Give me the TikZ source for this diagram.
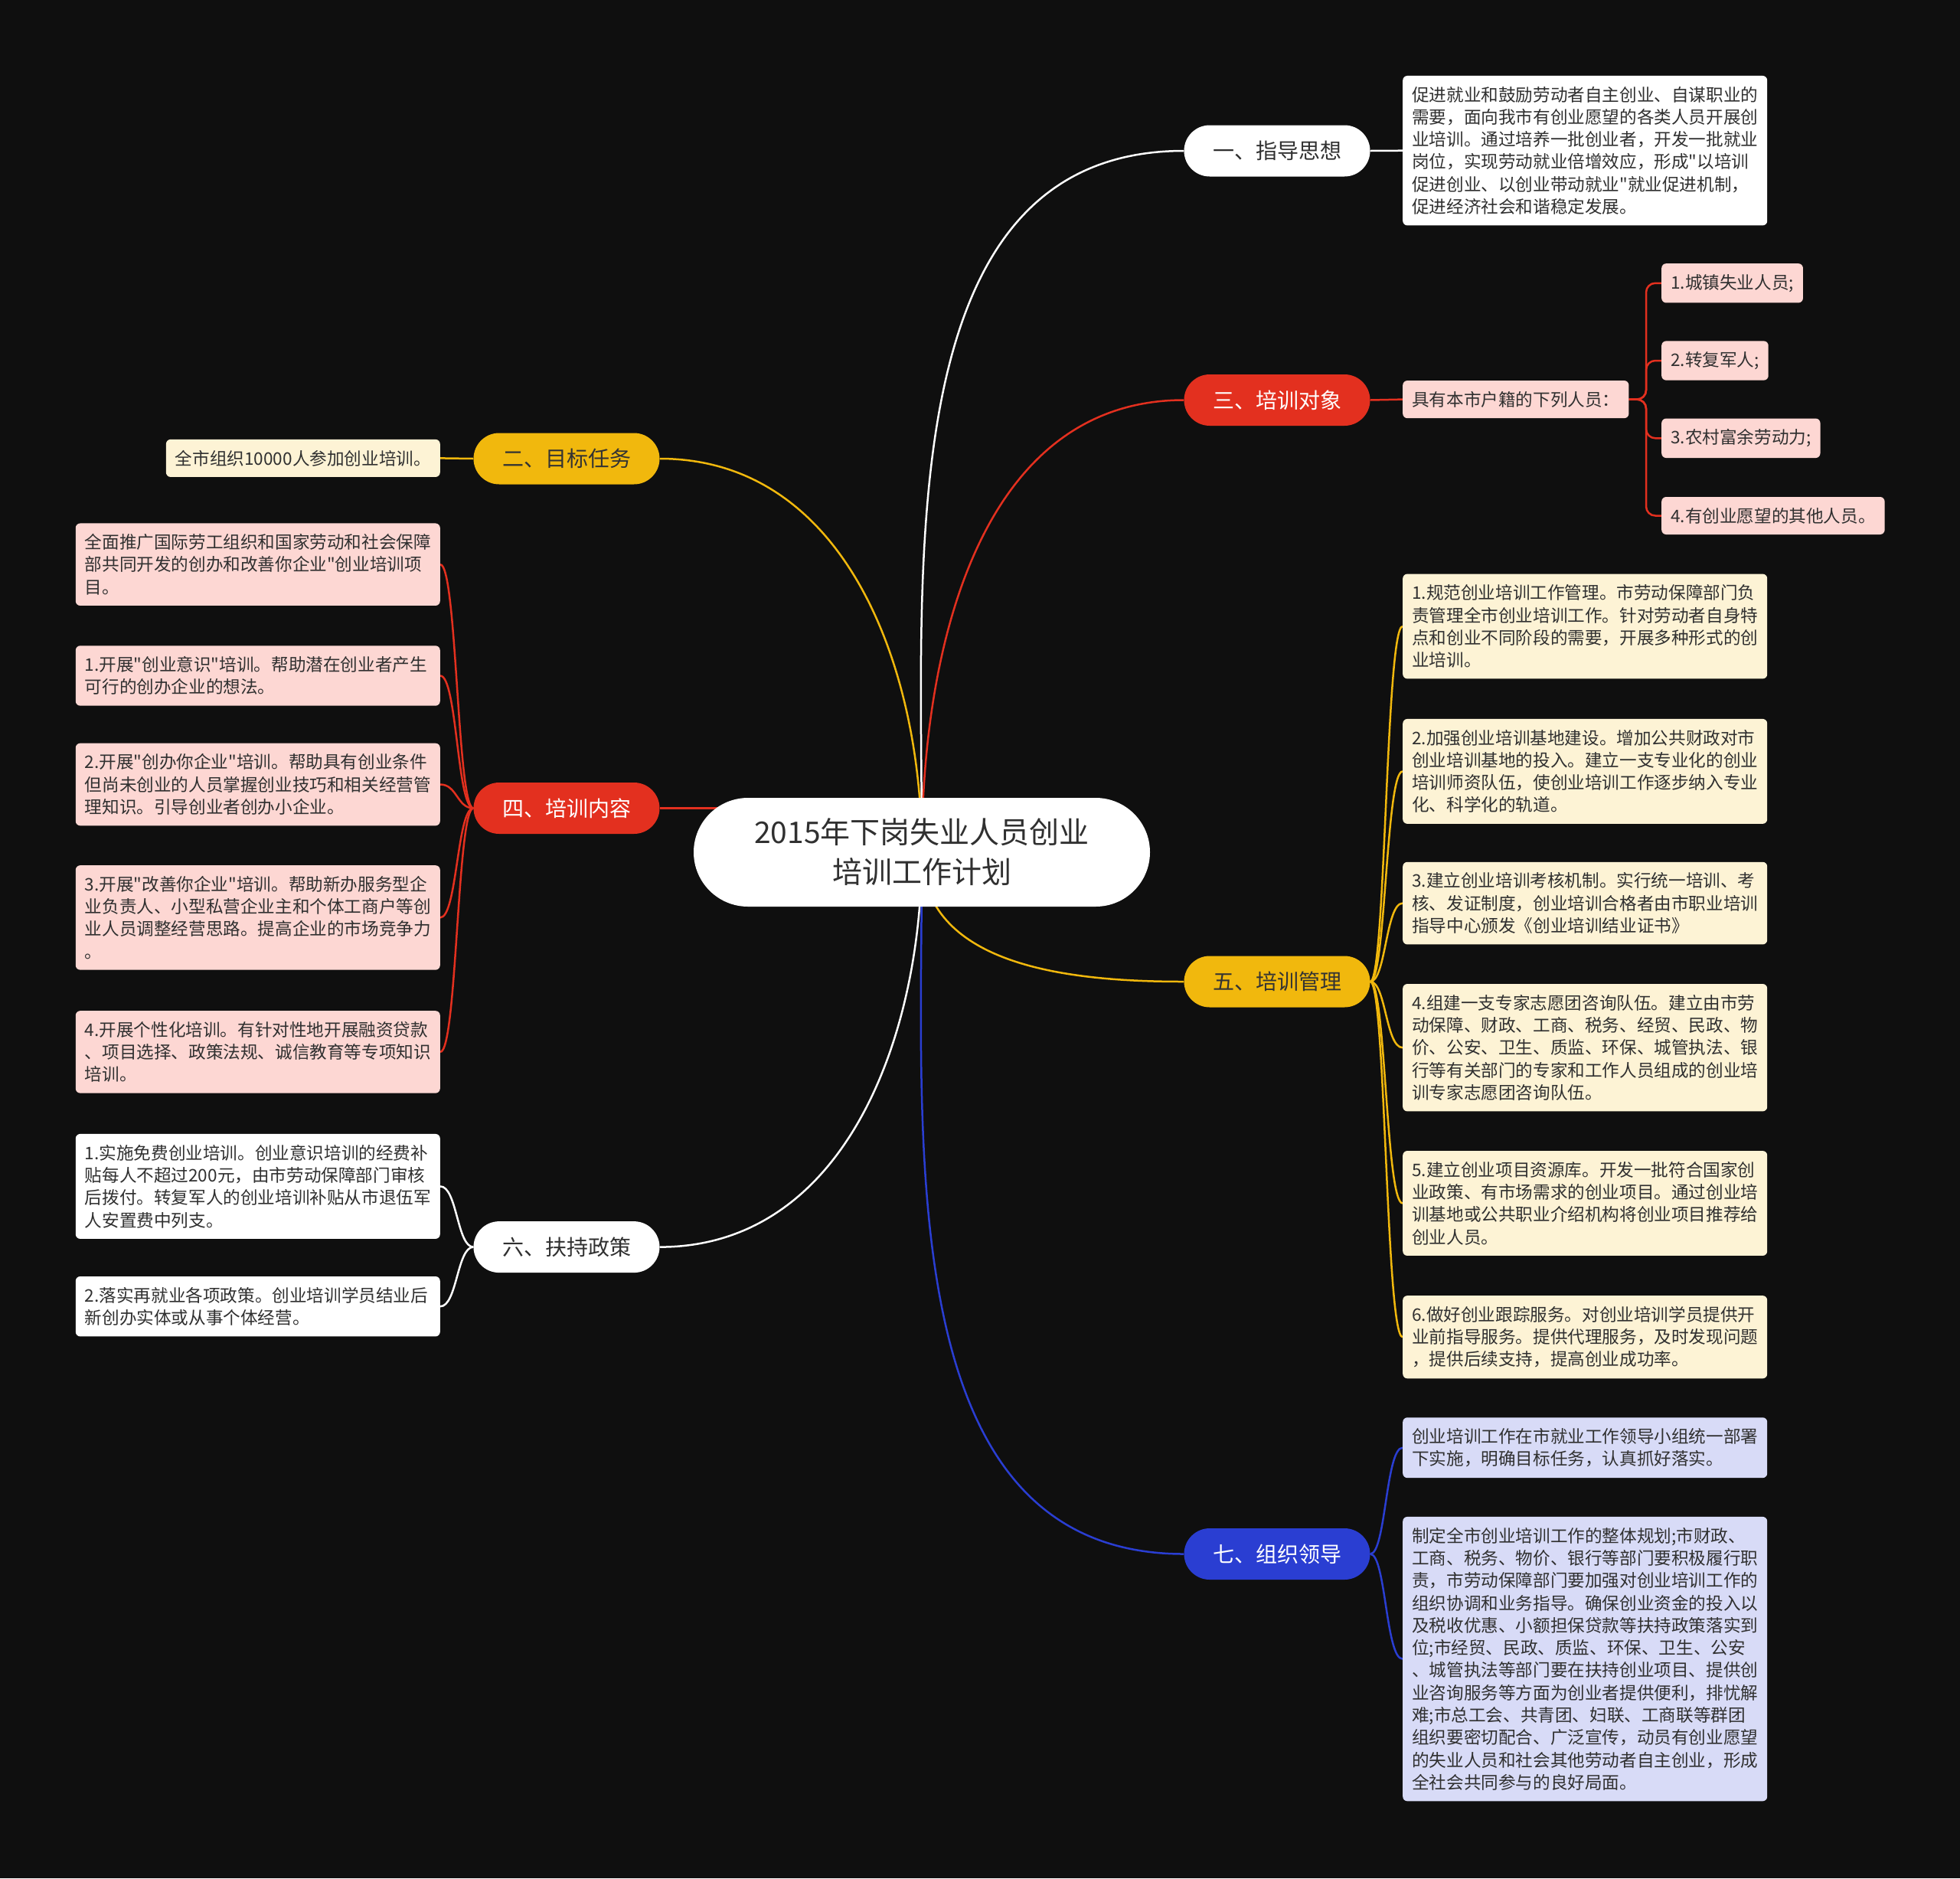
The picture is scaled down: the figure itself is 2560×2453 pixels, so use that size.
\documentclass[tikz,border=0pt]{standalone}
\usepackage{fontspec}
\setmainfont{Noto Sans CJK SC}[Ligatures=TeXOff]
\usetikzlibrary{shapes.misc}
\definecolor{bgdark}{HTML}{0F0F0F}
\definecolor{ink}{HTML}{303030}
\definecolor{redc}{HTML}{E3301F}
\definecolor{yelc}{HTML}{F1B80D}
\definecolor{bluc}{HTML}{2A3ED2}
\definecolor{pinkf}{HTML}{FDD7D3}
\definecolor{cremf}{HTML}{FDF3D5}
\definecolor{lavf}{HTML}{D8DBF7}
\pgfdeclarelayer{back}
\pgfdeclarelayer{edges}
\pgfsetlayers{back,edges,main}
\newcommand{\leaffont}{\fontsize{22.6pt}{29.3pt}\selectfont}
\newcommand{\pillfont}{\fontsize{28pt}{32pt}\selectfont}
\newcommand{\rootfont}{\fontsize{39pt}{52pt}\selectfont}

\begin{document}
\begin{tikzpicture}[x=1pt, y=-1pt,
	rootbox/.style={rounded rectangle, fill=white, text=ink, inner sep=0pt, minimum width=596pt, minimum height=142pt, align=center, font=\rootfont},
	pill/.style={rounded rectangle, inner sep=0pt, minimum width=243pt, minimum height=67pt, font=\pillfont},
	leaf/.style={rounded corners=6pt, inner xsep=12pt, inner ysep=14pt, align=left, font=\leaffont},
	wide/.style={leaf, text width=452pt},
	wline/.style={white, line width=2.5pt},
	rline/.style={redc, line width=2.5pt},
	yline/.style={yelc, line width=2.5pt},
	bline/.style={bluc, line width=2.5pt}]
	\begin{pgfonlayer}{back}
		\fill[bgdark] (0,0) rectangle (2560,2453);
	\end{pgfonlayer}
	\node[rootbox] (root) at (1204,1113) {2015年下岗失业人员创业\\培训工作计划};
	\node[pill, fill=white, text=ink] (b1) at (1668,197) {一、指导思想};
	\node[pill, fill=yelc, text=black!80] (b2) at (740,599) {二、目标任务};
	\node[pill, fill=redc, text=white] (b3) at (1668,522.5) {三、培训对象};
	\node[pill, fill=redc, text=white] (b4) at (740,1055.5) {四、培训内容};
	\node[pill, fill=yelc, text=black!80] (b5) at (1668,1282) {五、培训管理};
	\node[pill, fill=white, text=ink] (b6) at (740,1628.6) {六、扶持政策};
	\node[pill, fill=bluc, text=white] (b7) at (1668,2029.5) {七、组织领导};

	\node[wide, fill=white, text=ink, anchor=west] (l1) at (1832,196.7) {促进就业和鼓励劳动者自主创业、自谋职业的\\需要，面向我市有创业愿望的各类人员开展创\\业培训。通过培养一批创业者，开发一批就业\\岗位，实现劳动就业倍增效应，形成"以培训\\促进创业、以创业带动就业"就业促进机制，\\促进经济社会和谐稳定发展。};
	\node[leaf, fill=cremf, text=ink, anchor=east] (l2) at (575,598.4) {全市组织10000人参加创业培训。};
	\node[leaf, fill=pinkf, text=ink, anchor=west] (l3) at (1832,521.6) {具有本市户籍的下列人员：};
	\node[leaf, fill=pinkf, text=ink, anchor=west] (l3a) at (2170,369.8) {1.城镇失业人员;};
	\node[leaf, fill=pinkf, text=ink, anchor=west] (l3b) at (2170,471) {2.转复军人;};
	\node[leaf, fill=pinkf, text=ink, anchor=west] (l3c) at (2170,572.3) {3.农村富余劳动力;};
	\node[leaf, fill=pinkf, text=ink, anchor=west] (l3d) at (2170,673.5) {4.有创业愿望的其他人员。};

	\node[wide, fill=pinkf, text=ink, anchor=east] (l4a) at (575,737.2) {全面推广国际劳工组织和国家劳动和社会保障\\部共同开发的创办和改善你企业"创业培训项\\目。};
	\node[wide, fill=pinkf, text=ink, anchor=east] (l4b) at (575,882.5) {1.开展"创业意识"培训。帮助潜在创业者产生\\可行的创办企业的想法。};
	\node[wide, fill=pinkf, text=ink, anchor=east] (l4c) at (575,1024.5) {2.开展"创办你企业"培训。帮助具有创业条件\\但尚未创业的人员掌握创业技巧和相关经营管\\理知识。引导创业者创办小企业。};
	\node[wide, fill=pinkf, text=ink, anchor=east] (l4d) at (575,1198.4) {3.开展"改善你企业"培训。帮助新办服务型企\\业负责人、小型私营企业主和个体工商户等创\\业人员调整经营思路。提高企业的市场竞争力\\。};
	\node[wide, fill=pinkf, text=ink, anchor=east] (l4e) at (575,1373.9) {4.开展个性化培训。有针对性地开展融资贷款\\、项目选择、政策法规、诚信教育等专项知识\\培训。};

	\node[wide, fill=cremf, text=ink, anchor=west] (l5a) at (1832,818) {1.规范创业培训工作管理。市劳动保障部门负\\责管理全市创业培训工作。针对劳动者自身特\\点和创业不同阶段的需要，开展多种形式的创\\业培训。};
	\node[wide, fill=cremf, text=ink, anchor=west] (l5b) at (1832,1007.4) {2.加强创业培训基地建设。增加公共财政对市\\创业培训基地的投入。建立一支专业化的创业\\培训师资队伍，使创业培训工作逐步纳入专业\\化、科学化的轨道。};
	\node[wide, fill=cremf, text=ink, anchor=west] (l5c) at (1832,1179.6) {3.建立创业培训考核机制。实行统一培训、考\\核、发证制度，创业培训合格者由市职业培训\\指导中心颁发《创业培训结业证书》};
	\node[wide, fill=cremf, text=ink, anchor=west] (l5d) at (1832,1368.2) {4.组建一支专家志愿团咨询队伍。建立由市劳\\动保障、财政、工商、税务、经贸、民政、物\\价、公安、卫生、质监、环保、城管执法、银\\行等有关部门的专家和工作人员组成的创业培\\训专家志愿团咨询队伍。};
	\node[wide, fill=cremf, text=ink, anchor=west] (l5e) at (1832,1571.5) {5.建立创业项目资源库。开发一批符合国家创\\业政策、有市场需求的创业项目。通过创业培\\训基地或公共职业介绍机构将创业项目推荐给\\创业人员。};
	\node[wide, fill=cremf, text=ink, anchor=west] (l5f) at (1832,1746.2) {6.做好创业跟踪服务。对创业培训学员提供开\\业前指导服务。提供代理服务，及时发现问题\\，提供后续支持，提高创业成功率。};

	\node[wide, fill=white, text=ink, anchor=east] (l6a) at (575,1549.4) {1.实施免费创业培训。创业意识培训的经费补\\贴每人不超过200元，由市劳动保障部门审核\\后拨付。转复军人的创业培训补贴从市退伍军\\人安置费中列支。};
	\node[wide, fill=white, text=ink, anchor=east] (l6b) at (575,1706.2) {2.落实再就业各项政策。创业培训学员结业后\\新创办实体或从事个体经营。};

	\node[wide, fill=lavf, text=ink, anchor=west] (l7a) at (1832,1890.7) {创业培训工作在市就业工作领导小组统一部署\\下实施，明确目标任务，认真抓好落实。};
	\node[wide, fill=lavf, text=ink, anchor=west] (l7b) at (1832,2166.6) {制定全市创业培训工作的整体规划;市财政、\\工商、税务、物价、银行等部门要积极履行职\\责，市劳动保障部门要加强对创业培训工作的\\组织协调和业务指导。确保创业资金的投入以\\及税收优惠、小额担保贷款等扶持政策落实到\\位;市经贸、民政、质监、环保、卫生、公安\\、城管执法等部门要在扶持创业项目、提供创\\业咨询服务等方面为创业者提供便利，排忧解\\难;市总工会、共青团、妇联、工商联等群团\\组织要密切配合、广泛宣传，动员有创业愿望\\的失业人员和社会其他劳动者自主创业，形成\\全社会共同参与的良好局面。};

	\coordinate (s3) at (2150,521.6);
	\coordinate (s4) at (597,1055.5);
	\coordinate (s5) at (1810,1282);
	\coordinate (s6) at (597,1628.6);
	\coordinate (s7) at (1810,2029.5);
	\begin{pgfonlayer}{edges}
		\draw[wline] (root.center) to[out=90, in=180] (b1.west);
		\draw[yline] (root.center) to[out=90, in=0] (b2.east);
		\draw[rline] (root.center) to[out=90, in=180] (b3.west);
		\draw[rline] (b4.east) -- (b4.east -| root.center);
		\draw[yline] (root.center) to[out=-90, in=180] (b5.west);
		\draw[wline] (root.center) to[out=-90, in=0] (b6.east);
		\draw[bline] (root.center) to[out=-90, in=180] (b7.west);
		\draw[wline] (b1.east) -- (l1.west);
		\draw[yline] (b2.west) -- (l2.east);
		\draw[rline] (b3.east) -- (l3.west);
		\foreach \k in {a,b,c,d}
			\draw[rline, rounded corners=12pt] (l3.east) -- (s3) |- (l3\k.west);
		\foreach \k in {a,b,c,d,e}
			\draw[rline] (b4.west) .. controls (s4) and (s4 |- l4\k.east) .. (l4\k.east);
		\foreach \k in {a,b,c,d,e,f}
			\draw[yline] (b5.east) .. controls (s5) and (s5 |- l5\k.west) .. (l5\k.west);
		\foreach \k in {a,b}
			\draw[wline] (b6.west) .. controls (s6) and (s6 |- l6\k.east) .. (l6\k.east);
		\foreach \k in {a,b}
			\draw[bline] (b7.east) .. controls (s7) and (s7 |- l7\k.west) .. (l7\k.west);
	\end{pgfonlayer}
\end{tikzpicture}
\end{document}
